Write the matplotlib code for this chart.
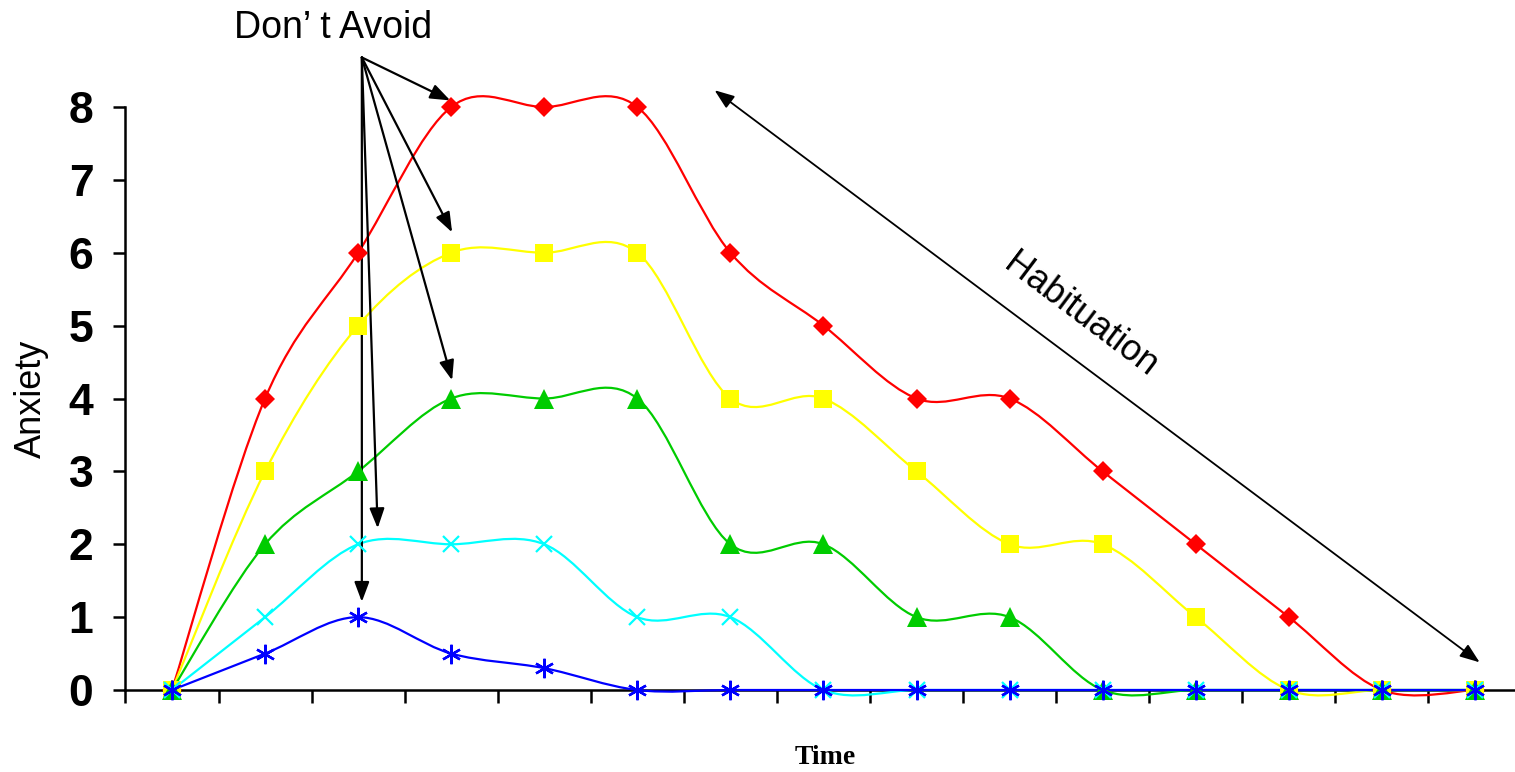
import numpy as np
import matplotlib
matplotlib.use("Agg")
import matplotlib.pyplot as plt
from matplotlib.path import Path
from matplotlib.patches import PathPatch

# ==================== DATA ====================

time_steps = list(range(15))
red_vals = [0, 4, 6, 8, 8, 8, 6, 5, 4, 4, 3, 2, 1, 0, 0]
yellow_vals = [0, 3, 5, 6, 6, 6, 4, 4, 3, 2, 2, 1, 0, 0, 0]
green_vals = [0, 2, 3, 4, 4, 4, 2, 2, 1, 1, 0, 0, 0, 0, 0]
cyan_vals = [0, 1, 2, 2, 2, 1, 1, 0, 0, 0, 0, 0, 0, 0, 0]
blue_vals = [0, 0.5, 1, 0.5, 0.3, 0, 0, 0, 0, 0, 0, 0, 0, 0, 0]
y_ticks = [0, 1, 2, 3, 4, 5, 6, 7, 8]

# ==================== FUNCTIONS ====================

def smooth_path(xs, ys):
    """ Excel-like smoothed line: cubic bezier segments (catmull-rom control points).
    """
    pts = np.column_stack([xs, ys]).astype(float)
    n = len(pts)
    verts = [pts[0]]
    codes = [Path.MOVETO]
    for i in range(n - 1):
        p0 = pts[max(i - 1, 0)]
        p1 = pts[i]
        p2 = pts[i + 1]
        p3 = pts[min(i + 2, n - 1)]
        c1 = p1 + (p2 - p0) / 6.0
        c2 = p2 - (p3 - p1) / 6.0
        verts += [c1, c2, p2]
        codes += [Path.CURVE4] * 3
    return Path(verts, codes)

# ==================== FIGURE ====================

plt.rcParams['font.family'] = ['Liberation Sans', 'DejaVu Sans']

fig = plt.figure(figsize=(15.15, 7.72), dpi=100)
ax = fig.add_axes([0.0828, 0.1062, 0.9215, 0.7552])

series = [
    (red_vals, '#ff0000', 'D', 10, 0),
    (yellow_vals, '#ffff00', 's', 13, 0),
    (green_vals, '#00cc00', '^', 14, 0),
    (cyan_vals, '#00ffff', 'x', 12, 1.6),
    (blue_vals, '#0000ff', (6, 2, 0), 14, 1.7),
]

for vals, col, mk, ms, mew in series:
    patch = PathPatch(smooth_path(time_steps, vals), facecolor='none',
                      edgecolor=col, lw=1.6, zorder=3, clip_on=False)
    ax.add_patch(patch)
    ax.plot(time_steps, vals, linestyle='none', marker=mk, markersize=ms,
            color=col, markeredgecolor=col, markeredgewidth=mew, zorder=4,
            clip_on=False)

ax.set_xlim(-0.5, 14.5)
ax.set_ylim(0, 8)

ax.set_xticks(np.arange(-0.5, 15, 1))
ax.set_xticklabels([])
ax.set_yticks(y_ticks)
ax.set_yticklabels([str(t) for t in y_ticks], fontsize=32, fontweight='bold')
ax.tick_params(axis='both', direction='out', length=9, width=1.8, color='black')
ax.tick_params(axis='y', pad=14)

for s in ['top', 'right']:
    ax.spines[s].set_visible(False)
for s in ['left', 'bottom']:
    ax.spines[s].set_linewidth(1.8)
ax.spines['bottom'].set_zorder(2)

ax.set_ylabel('Anxiety', fontsize=26, labelpad=14)
fig.text(825 / 1515, 14 / 772, 'Time', fontsize=20, fontweight='bold',
         family='Liberation Serif', ha='center', va='center')

# ==================== ANNOTATIONS ====================

ax.text(1.73, 9.08, 'Don\u2019 t Avoid', fontsize=27, ha='center', va='center')

arrow_src = (2.04, 8.68)
arrow_dst = [(2.99, 8.09), (3.01, 6.28), (3.01, 4.25), (2.21, 2.22), (2.04, 1.21)]
for dst in arrow_dst:
    ax.annotate('', xy=dst, xytext=arrow_src, annotation_clip=False,
                arrowprops=dict(arrowstyle='-|>,head_length=1.2,head_width=0.45',
                                color='black', lw=1.6, shrinkA=0, shrinkB=0))

ax.annotate('', xy=(5.83, 8.23), xytext=(14.05, 0.38), annotation_clip=False,
            arrowprops=dict(arrowstyle='<|-|>,head_length=1.2,head_width=0.45',
                            color='black', lw=1.3, shrinkA=0, shrinkB=0))
ax.text(9.76, 5.14, 'Habituation', fontsize=26, ha='center', va='center',
        rotation=-37, rotation_mode='anchor')

fig.savefig('out.png', dpi=100)
